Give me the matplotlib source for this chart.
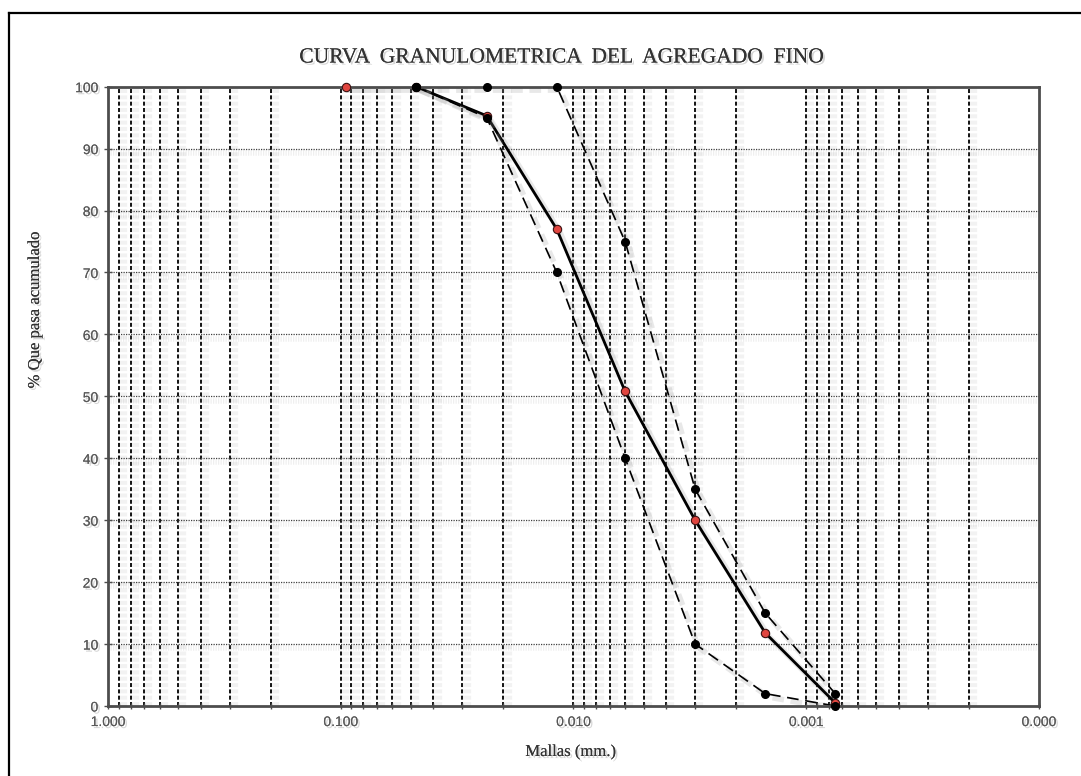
import numpy as np
import matplotlib
matplotlib.use('Agg')
import matplotlib.pyplot as plt
import matplotlib.patheffects as pe
from matplotlib.lines import Line2D
from matplotlib.ticker import FixedLocator, FuncFormatter, LogLocator

# Abertura de mallas (escala del grafico) y % que pasa acumulado
mallas = [0.095, 0.0475, 0.0236, 0.0118, 0.006, 0.003, 0.0015, 0.00075]
pasa_muestra = [100, 100, 95.3, 77.0, 50.8, 30.0, 11.8, 0.5]

mallas_lim = [0.0475, 0.0236, 0.0118, 0.006, 0.003, 0.0015, 0.00075]
lim_superior = [100, 100, 100, 75, 35, 15, 2]
lim_inferior = [100, 95, 70, 40, 10, 2, 0]

x_ticks = [1.0, 0.1, 0.01, 0.001, 0.0001]
y_ticks = [0, 10, 20, 30, 40, 50, 60, 70, 80, 90, 100]

titulo = "CURVA  GRANULOMETRICA  DEL  AGREGADO  FINO"
etiqueta_x = "Mallas (mm.)"
etiqueta_y = "% Que pasa acumulado"

serif = ['Liberation Serif', 'DejaVu Serif']
sans = ['Liberation Sans', 'DejaVu Sans']

sombra_txt = [pe.withSimplePatchShadow(offset=(1.5, -1.5), shadow_rgbFace='0.55', alpha=0.35), pe.Normal()]
sombra_lin = [pe.SimpleLineShadow(offset=(2.5, -2.5), shadow_color='0.6', alpha=0.22, linewidth=4), pe.Normal()]

fig = plt.figure(figsize=(10.81, 7.76), dpi=100)
ax = fig.add_axes([0.0999, 0.0902, 0.8612, 0.7981])

# marco exterior
fig.add_artist(Line2D([9 / 1081, 9 / 1081], [0, 1 - 13 / 776], transform=fig.transFigure, color='black', lw=1.6))
fig.add_artist(Line2D([9 / 1081, 1], [1 - 13 / 776, 1 - 13 / 776], transform=fig.transFigure, color='black', lw=1.6))

ax.set_xscale('log')
ax.set_xlim(1.0, 0.0001)
ax.set_ylim(0, 100)

# grilla vertical en todas las divisiones logaritmicas
for dec in [1.0, 0.1, 0.01, 0.001]:
    for k in range(1, 10):
        xv = dec * k / 10 if k > 1 else dec / 10
        if xv <= 0.0001 or xv >= 1.0:
            continue
        ax.axvline(xv, color='black', lw=1.3, ls=(0, (2.2, 1.3)), zorder=1,
                   path_effects=[pe.SimpleLineShadow(offset=(3, 0), shadow_color='0.6', alpha=0.12, linewidth=6), pe.Normal()])
for yv in y_ticks[1:-1]:
    ax.axhline(yv, color='0.25', lw=0.9, ls=(0, (1, 1)), zorder=1,
               path_effects=[pe.SimpleLineShadow(offset=(0, -3), shadow_color='0.6', alpha=0.15, linewidth=4), pe.Normal()])

# curvas (bajo el marco) y puntos (sobre el marco)
ax.plot(mallas, pasa_muestra, color='black', lw=2.0, zorder=3, path_effects=sombra_lin)
ax.plot(mallas_lim, lim_superior, color='black', lw=1.2, ls=(0, (7, 4)), zorder=4, path_effects=sombra_lin)
ax.plot(mallas_lim, lim_inferior, color='black', lw=1.2, ls=(0, (7, 4)), zorder=4, path_effects=sombra_lin)

ax.plot(mallas, pasa_muestra, ls='none', zorder=8, clip_on=False,
        marker='o', markersize=6, markerfacecolor='#e0453f', markeredgecolor='#3a1010', markeredgewidth=0.8)
ax.plot(mallas_lim, lim_superior, ls='none', zorder=9, clip_on=False,
        marker='o', markersize=5.5, markerfacecolor='black', markeredgecolor='black')
ax.plot(mallas_lim, lim_inferior, ls='none', zorder=9, clip_on=False,
        marker='o', markersize=5.5, markerfacecolor='black', markeredgecolor='black')

ax.xaxis.set_major_locator(FixedLocator(x_ticks))
ax.xaxis.set_minor_locator(LogLocator(base=10, subs=np.arange(2, 10)))
ax.xaxis.set_minor_formatter(FuncFormatter(lambda v, p: ''))
ax.xaxis.set_major_formatter(FuncFormatter(lambda v, p: f"{v:.3f}"))
ax.set_yticks(y_ticks)
ax.tick_params(axis='both', which='both', direction='inout', length=6, width=1.0, color='0.3',
               labelsize=10, labelcolor='0.35', pad=4)
ax.tick_params(axis='x', which='both', length=5)
for lab in ax.get_xticklabels() + ax.get_yticklabels():
    lab.set_family(sans)
    lab.set_path_effects(sombra_txt)

for s in ax.spines.values():
    s.set_color('0.3')
    s.set_linewidth(2.0)
    s.set_zorder(5)

fig.text(0.519, 1 - 58 / 776, titulo, ha='center', va='center', fontsize=15.5, family=serif,
         color='0.2', path_effects=sombra_txt)
fig.text(0.528, 1 - 752 / 776, etiqueta_x, ha='center', va='center', fontsize=12, family=serif,
         color='0.2', path_effects=sombra_txt)
fig.text(35 / 1081, 1 - 310 / 776, etiqueta_y, ha='center', va='center', rotation=90, fontsize=12,
         family=serif, color='0.2', path_effects=sombra_txt)

fig.savefig('out.png', dpi=100)
plt.close(fig)
